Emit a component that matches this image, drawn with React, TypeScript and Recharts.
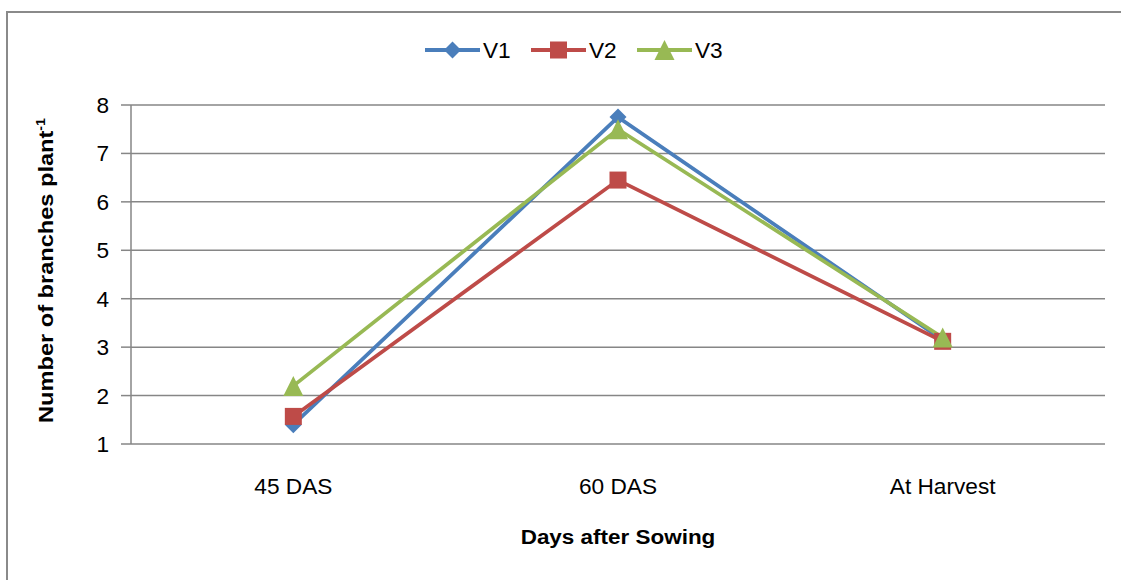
import React from 'react';
import { LineChart, Line, XAxis, YAxis, CartesianGrid, Legend } from 'recharts';

// Growth stages on the x axis
const stages = ['45 DAS', '60 DAS', 'At Harvest'];
// Number of branches per plant for each variety
const v1 = [1.4, 7.75, 3.15];
const v2 = [1.57, 6.45, 3.12];
const v3 = [2.2, 7.5, 3.2];
const yTicks = [1, 2, 3, 4, 5, 6, 7, 8];
const boundaryTicks = [0, 1, 2, 3];
const stageTicks = [0.5, 1.5, 2.5];
const seriesNames = ['V1', 'V2', 'V3'];

const data = stages.map((stage, i) => ({
  x: i + 0.5,
  stage,
  V1: v1[i],
  V2: v2[i],
  V3: v3[i],
}));

const COLORS: Record<string, string> = { V1: '#4A7EBB', V2: '#BE4B48', V3: '#98B954' };
const AXIS = '#868686';
const FONT = '"Liberation Sans", Arial, sans-serif';
const STRETCH = 1.03;

function Marker({ name, cx, cy }: { name: string; cx: number; cy: number }) {
  const c = COLORS[name];
  if (name === 'V1') {
    const h = 8.5;
    return <polygon points={`${cx},${cy - h} ${cx + h},${cy} ${cx},${cy + h} ${cx - h},${cy}`} fill={c} />;
  }
  if (name === 'V2') {
    const h = 8.5;
    return <rect x={cx - h} y={cy - h} width={2 * h} height={2 * h} fill={c} />;
  }
  const h = 10;
  return <polygon points={`${cx},${cy - h} ${cx + h},${cy + h} ${cx - h},${cy + h}`} fill={c} />;
}

const makeDot = (name: string) => (props: any) => {
  const { cx, cy, index } = props;
  if (cx == null || cy == null) return <g key={`${name}-${index}`} />;
  return (
    <g key={`${name}-${index}`}>
      <Marker name={name} cx={cx} cy={cy} />
    </g>
  );
};

const YTick = (props: any) => {
  const { x, y, payload } = props;
  return (
    <text
      transform={`translate(${x},${y}) scale(${STRETCH},1)`}
      dy={8}
      textAnchor="end"
      fontSize={22}
      fontFamily={FONT}
      fill="#000"
    >
      {payload.value}
    </text>
  );
};

const StageTick = (props: any) => {
  const { x, y, payload } = props;
  const label = stages[Math.floor(payload.value)];
  return (
    <text
      transform={`translate(${x},${y}) scale(${STRETCH},1)`}
      dy={50}
      textAnchor="middle"
      fontSize={22}
      fontFamily={FONT}
      fill="#000"
    >
      {label}
    </text>
  );
};

const XTitle = (props: any) => {
  const { viewBox } = props;
  const cx = viewBox.x + viewBox.width / 2;
  return (
    <text
      transform={`translate(${cx},${viewBox.y + 100}) scale(1.07,1)`}
      textAnchor="middle"
      fontSize={21}
      fontWeight="bold"
      fontFamily={FONT}
      fill="#000"
    >
      Days after Sowing
    </text>
  );
};

const YTitle = (props: any) => {
  const { viewBox } = props;
  const cx = viewBox.x - 18;
  const cy = viewBox.y + viewBox.height / 2 - 4;
  return (
    <text
      transform={`translate(${cx},${cy}) rotate(-90) scale(1.18,1)`}
      textAnchor="middle"
      fontSize={20}
      fontWeight="bold"
      fontFamily={FONT}
      fill="#000"
    >
      Number of branches plant
      <tspan fontSize={12} dy={-8}>-1</tspan>
    </text>
  );
};

const LegendContent = () => (
  <svg width={330} height={28} style={{ overflow: 'visible' }}>
    {seriesNames.map((name, i) => {
      const ox = i * 106;
      return (
        <g key={name}>
          <line x1={ox} x2={ox + 55} y1={12} y2={12} stroke={COLORS[name]} strokeWidth={4} />
          <Marker name={name} cx={ox + 27.5} cy={12} />
          <text
            transform={`translate(${ox + 58},20) scale(${STRETCH},1)`}
            fontSize={22}
            fontFamily={FONT}
            fill="#000"
          >
            {name}
          </text>
        </g>
      );
    })}
  </svg>
);

export default function App() {
  return (
    <div
      style={{
        position: 'absolute',
        left: 0,
        top: 0,
        width: 1121,
        height: 580,
        overflow: 'hidden',
        background: '#fff',
      }}
    >
      <div
        style={{
          position: 'absolute',
          left: 6,
          top: 11,
          width: 1300,
          height: 800,
          border: '2px solid #8a8a8a',
          boxSizing: 'border-box',
        }}
      />
      <div style={{ position: 'absolute', left: 0, top: 0 }}>
        <LineChart
          width={1121}
          height={580}
          data={data}
          margin={{ top: 105, right: 16, bottom: 106, left: 71 }}
        >
          <CartesianGrid
            xAxisId="grid"
            vertical={false}
            stroke={AXIS}
            strokeWidth={1.5}
          />
          <XAxis
            xAxisId="grid"
            type="number"
            dataKey="x"
            domain={[0, 3]}
            ticks={boundaryTicks}
            interval={0}
            tick={false}
            height={0}
            tickSize={8}
            axisLine={{ stroke: AXIS, strokeWidth: 1.5 }}
            tickLine={{ stroke: AXIS, strokeWidth: 1.5 }}
            allowDataOverflow
          />
          <XAxis
            xAxisId="stage"
            type="number"
            dataKey="x"
            domain={[0, 3]}
            ticks={stageTicks}
            interval={0}
            tick={<StageTick />}
            tickSize={0}
            tickMargin={0}
            tickLine={false}
            axisLine={false}
            height={30}
            label={{ content: <XTitle /> }}
            allowDataOverflow
          />
          <YAxis
            type="number"
            domain={[1, 8]}
            ticks={yTicks}
            interval={0}
            width={60}
            tickSize={10}
            tickMargin={12}
            tick={<YTick />}
            axisLine={{ stroke: AXIS, strokeWidth: 1.5 }}
            tickLine={{ stroke: AXIS, strokeWidth: 1.5 }}
            label={{ content: <YTitle /> }}
            allowDataOverflow
          />
          <Legend
            layout="horizontal"
            verticalAlign="middle"
            align="center"
            content={<LegendContent />}
            wrapperStyle={{ top: 38, left: 425, width: 330, height: 28 }}
          />
          {seriesNames.map((name) => (
            <Line
              key={name}
              xAxisId="grid"
              type="linear"
              dataKey={name}
              stroke={COLORS[name]}
              strokeWidth={3.75}
              dot={makeDot(name)}
              activeDot={false}
              isAnimationActive={false}
            />
          ))}
        </LineChart>
      </div>
    </div>
  );
}
